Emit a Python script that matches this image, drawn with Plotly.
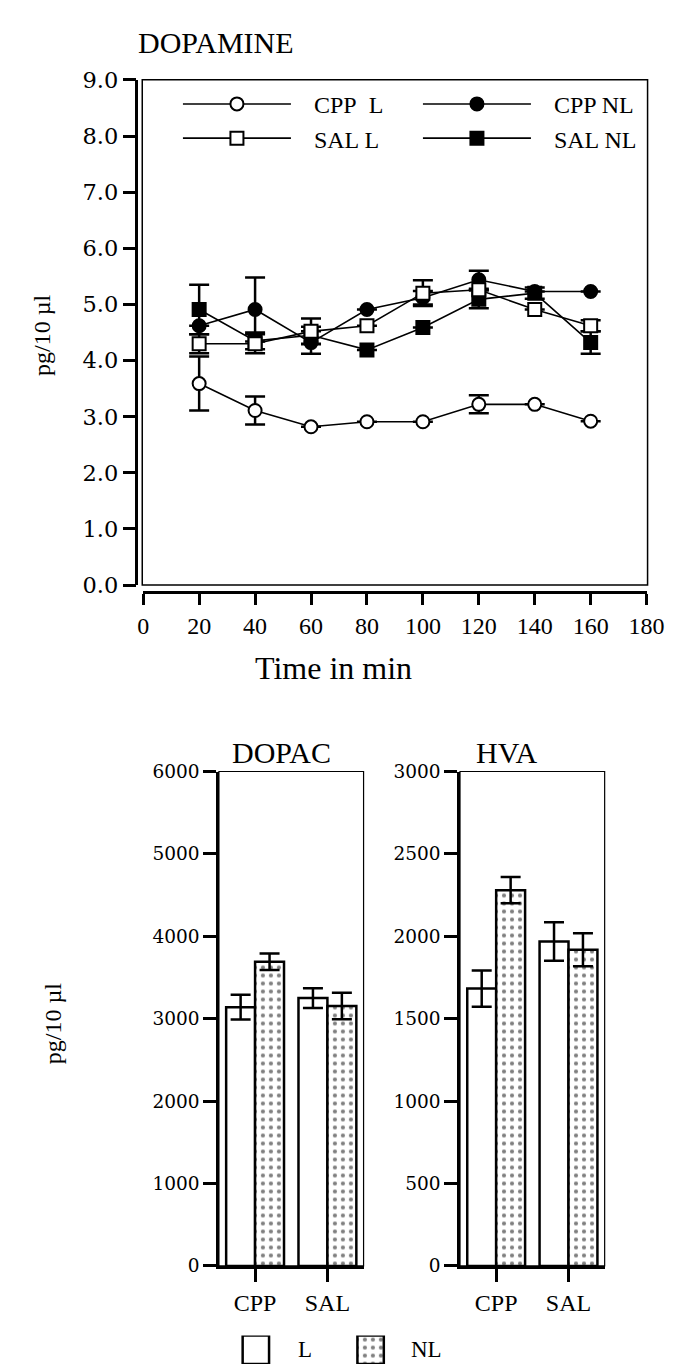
import plotly.graph_objects as go

W, H = 673, 1372

# ---------------- data ----------------
time_min = [20, 40, 60, 80, 100, 120, 140, 160]
cpp_l = [3.59, 3.11, 2.82, 2.91, 2.91, 3.22, 3.22, 2.92]
cpp_l_err = [0.48, 0.25, None, None, None, 0.16, None, None]
cpp_nl = [4.62, 4.91, 4.32, 4.91, 5.12, 5.44, 5.23, 5.23]
cpp_nl_err = [None, 0.57, 0.20, None, 0.12, 0.16, None, None]
sal_l = [4.30, 4.30, 4.52, 4.62, 5.20, 5.26, 4.91, 4.62]
sal_l_err = [0.17, 0.17, 0.23, None, 0.23, None, None, 0.10]
sal_nl = [4.91, 4.35, 4.45, 4.19, 4.59, 5.09, 5.20, 4.32]
sal_nl_err = [0.44, 0.15, 0.15, None, None, 0.16, 0.10, 0.20]

groups = ["CPP", "SAL"]
dopac_l = [3140, 3250]
dopac_l_err = [150, 120]
dopac_nl = [3690, 3155]
dopac_nl_err = [100, 160]
hva_l = [1683, 1968]
hva_l_err = [110, 117]
hva_nl = [2280, 1918]
hva_nl_err = [80, 100]

key_labels = ["L", "NL"]
key_vals = [1, 1]

# ---------------- helpers ----------------
def fx(p):
    return p / W

def fy(p):
    return 1 - p / H

SERIF = "Liberation Serif"
NUMF = "DejaVu Serif"
NB = "\u00a0"

fig = go.Figure()

# ---------------- top: dopamine time course ----------------
def add_line(name, y, err, symbol, fill, rank):
    fig.add_trace(go.Scatter(
        x=time_min, y=y, name=NB * 3 + name, mode="lines+markers",
        line=dict(color="black", width=1.6),
        marker=dict(symbol=symbol, size=13, color=fill,
                    line=dict(color="black", width=2)),
        error_y=dict(type="data", array=err, visible=True, color="black",
                     thickness=2.5, width=10),
        xaxis="x", yaxis="y", legend="legend", legendrank=rank,
    ))

add_line("CPP NL", cpp_nl, cpp_nl_err, "circle", "black", 2)
add_line("SAL NL", sal_nl, sal_nl_err, "square", "black", 4)
add_line("SAL L", sal_l, sal_l_err, "square", "white", 3)
add_line("CPP" + NB * 2 + "L", cpp_l, cpp_l_err, "circle", "white", 1)

# ---------------- bottom: bars ----------------
PAT = dict(shape=".", fgcolor="black", bgcolor="white", size=8, solidity=0.22)

def add_bars(xa, ya, l, le, nl, nle):
    fig.add_trace(go.Bar(
        x=groups, y=l, name="L", xaxis=xa, yaxis=ya,
        marker=dict(color="white", line=dict(color="black", width=2.5)),
        error_y=dict(type="data", array=le, color="black", thickness=2.5, width=10),
        showlegend=False,
    ))
    fig.add_trace(go.Bar(
        x=groups, y=nl, name="NL", xaxis=xa, yaxis=ya,
        marker=dict(color="white", line=dict(color="black", width=2.5), pattern=PAT),
        error_y=dict(type="data", array=nle, color="black", thickness=2.5, width=10),
        showlegend=False,
    ))

add_bars("x2", "y2", dopac_l, dopac_l_err, dopac_nl, dopac_nl_err)
add_bars("x3", "y3", hva_l, hva_l_err, hva_nl, hva_nl_err)

# key (legend swatches for the bar charts)
fig.add_trace(go.Bar(
    x=key_labels, y=key_vals, xaxis="x4", yaxis="y4", width=0.23,
    marker=dict(color="white", line=dict(color="black", width=2.5),
                pattern=dict(shape=["", "."], fgcolor="black", bgcolor="white",
                             size=8, solidity=0.22)),
    showlegend=False,
))

# ---------------- axes ----------------
tick_common = dict(ticks="outside", tickcolor="black", tickwidth=2.5, ticklen=13,
                   showgrid=False, zeroline=False, linecolor="black", linewidth=2.5,
                   showline=True, ticklabeloverflow="allow")

TX0, TX1, TY0, TY1 = 134, 656, 60, 575
xa_top = dict(tick_common, ticklen=11)
fig.update_layout(
    xaxis=dict(domain=[fx(TX0), fx(TX1)], range=[0, 180], dtick=20, tick0=0,
               anchor="free", position=fy(TY1 + 7), **xa_top,
               tickfont=dict(family=SERIF, size=24, color="black")),
    yaxis=dict(domain=[fy(TY1), fy(TY0)], range=[0, 9], dtick=1, tick0=0,
               tickformat=".1f", anchor="free", position=fx(TX0 - 7), **tick_common,
               tickfont=dict(family=NUMF, size=22.5, color="black")),
)

bx = [(212.5, 362.5), (462.5, 612.5)]
by0, by1 = 765, 1269
for i, (x0, x1), ymax, dt in [(2, bx[0], 6000, 1000), (3, bx[1], 3000, 500)]:
    fig.layout[f"xaxis{i}"] = dict(domain=[fx(x0), fx(x1)], anchor=f"y{i}",
                                   range=[-0.5, 1.5], **tick_common,
                                   tickfont=dict(family=SERIF, size=24, color="black"))
    fig.layout[f"yaxis{i}"] = dict(domain=[fy(by1), fy(by0)], anchor=f"x{i}",
                                   range=[0, ymax], dtick=dt, tick0=0, **tick_common,
                                   tickfont=dict(family=NUMF, size=18.5, color="black"))

fig.layout["xaxis4"] = dict(domain=[fx(227), fx(465)], anchor="y4", range=[-0.2, 1.8],
                            visible=False)
fig.layout["yaxis4"] = dict(domain=[fy(1369), fy(1340)], anchor="x4", range=[0, 1],
                            visible=False)

fig.update_layout(barmode="group", bargap=0.2, bargroupgap=0)

# ---------------- frames ----------------
def frame(x0, y0, x1, y1, w=1.5, color="black"):
    fig.add_shape(type="rect", xref="paper", yref="paper",
                  x0=fx(x0), x1=fx(x1), y0=fy(y1), y1=fy(y0),
                  line=dict(color=color, width=w), fillcolor="rgba(0,0,0,0)",
                  layer="above")

frame(TX0 - 1, TY0, TX1 + 1, TY1)
frame(bx[0][0], by0, bx[0][1], by1, 1.2)
frame(bx[1][0], by0, bx[1][1], by1, 1.2)

# ---------------- text ----------------
def ann(text, x, y, size, xanchor="center", angle=0, family=SERIF, xref="paper", yref="paper"):
    fig.add_annotation(text=text, x=x, y=y, xref=xref, yref=yref, showarrow=False,
                       xanchor=xanchor, yanchor="middle", textangle=angle,
                       font=dict(family=family, size=size, color="black"))

ann("DOPAMINE", fx(127), fy(22), 30, xanchor="left")
ann("Time in min", fx(331), fy(659), 32)
ann("pg/10 \u00b5l", fx(29), fy(320), 24, angle=-90)
ann("DOPAC", fx(277), fy(746), 30)
ann("HVA", fx(511), fy(746), 30)
ann("pg/10 \u00b5l", fx(40), fy(1022), 24, angle=-90)
ann("L", 0.43, 0.5, 23, xref="x4", yref="y4")
ann("NL", 1.49, 0.5, 23, xref="x4", yref="y4")

# ---------------- legend ----------------
fig.update_layout(
    legend=dict(orientation="h", x=fx(170), y=fy(62), xanchor="left", yanchor="top",
                bgcolor="rgba(0,0,0,0)", itemwidth=108, entrywidth=117,
                traceorder="normal", font=dict(family=SERIF, size=24, color="black"),
                itemclick=False),
    width=W, height=H, margin=dict(l=0, r=0, t=0, b=0),
    paper_bgcolor="white", plot_bgcolor="white",
    showlegend=True,
)

fig.write_html("out.html")
